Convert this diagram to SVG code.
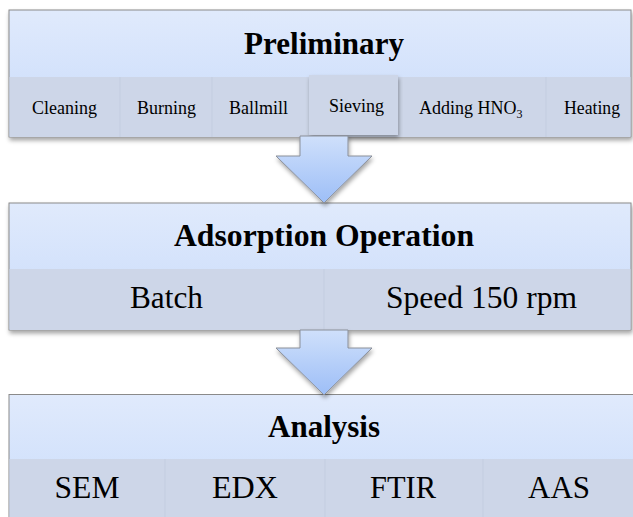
<svg xmlns="http://www.w3.org/2000/svg" width="633" height="517" viewBox="0 0 633 517">
  <defs>
    <linearGradient id="hdr" x1="0" y1="0" x2="0" y2="1">
      <stop offset="0" stop-color="#e0eafc"/>
      <stop offset="1" stop-color="#c8dbfb"/>
    </linearGradient>
    <linearGradient id="arw" x1="0" y1="0" x2="0" y2="1">
      <stop offset="0" stop-color="#cfe0fb"/>
      <stop offset="1" stop-color="#9dbef7"/>
    </linearGradient>
    <filter id="sh" x="-5%" y="-10%" width="110%" height="130%">
      <feDropShadow dx="1" dy="3" stdDeviation="2" flood-color="#000" flood-opacity="0.35"/>
    </filter>
  </defs>
  <style>
    .hdr { fill: url(#hdr); stroke: #8a8a8a; stroke-width: 1; }
    .sub { fill: #cdd6e8; }
    .div { stroke: #c3cde0; stroke-width: 1; }
    .title { font-weight: bold; font-size: 31px; text-anchor: middle; }
    .s18 { font-size: 18px; text-anchor: middle; }
    .s18l { font-size: 18px; text-anchor: start; }
    .s31 { font-size: 31px; text-anchor: middle; }
    .arrow { fill: url(#arw); stroke: #8a8f99; stroke-width: 1; filter: url(#sh); }
  </style>
  <rect width="633" height="517" fill="#ffffff"/>

  <g id="node-preliminary">
    <g filter="url(#sh)">
      <rect class="hdr" x="9" y="10" width="622" height="127"/>
    </g>
    <rect class="sub" x="9.5" y="77" width="621" height="60"/>
    <line class="div" x1="120" y1="77" x2="120" y2="137"/>
    <line class="div" x1="212" y1="77" x2="212" y2="137"/>
    <line class="div" x1="546" y1="77" x2="546" y2="137"/>
    <rect class="sub" x="309" y="75" width="89" height="60" fill="#ced7e9" filter="url(#sh)"/>
    <g font-family="Liberation Serif, Tinos, Noto Serif, DejaVu Serif, serif" fill="#000">
      <text class="title" x="324" y="54" textLength="160" lengthAdjust="spacingAndGlyphs">Preliminary</text>
      <text class="s18" x="64.5" y="114" textLength="65" lengthAdjust="spacingAndGlyphs">Cleaning</text>
      <text class="s18" x="166.5" y="114" textLength="59" lengthAdjust="spacingAndGlyphs">Burning</text>
      <text class="s18" x="258.5" y="114" textLength="59" lengthAdjust="spacingAndGlyphs">Ballmill</text>
      <text class="s18" x="356.5" y="112" textLength="55" lengthAdjust="spacingAndGlyphs">Sieving</text>
      <text class="s18l" x="419" y="114">Adding HNO<tspan font-size="12" dy="4">3</tspan></text>
      <text class="s18" x="592" y="114" textLength="56" lengthAdjust="spacingAndGlyphs">Heating</text>
    </g>
  </g>

  <g id="node-adsorption">
    <g filter="url(#sh)">
      <rect class="hdr" x="9" y="203" width="622" height="127"/>
    </g>
    <rect class="sub" x="9.5" y="269" width="621" height="61"/>
    <line class="div" x1="324" y1="269" x2="324" y2="330"/>
    <g font-family="Liberation Serif, Tinos, Noto Serif, DejaVu Serif, serif" fill="#000">
      <text class="title" x="324" y="246" textLength="300" lengthAdjust="spacingAndGlyphs">Adsorption Operation</text>
      <text class="s31" x="166.5" y="308" textLength="73" lengthAdjust="spacingAndGlyphs">Batch</text>
      <text class="s31" x="481.5" y="308" textLength="191" lengthAdjust="spacingAndGlyphs">Speed 150 rpm</text>
    </g>
  </g>

  <g id="node-analysis">
    <rect class="hdr" x="9" y="394.5" width="640" height="130"/>
    <rect class="sub" x="9.5" y="459" width="640" height="60"/>
    <line class="div" x1="165" y1="459" x2="165" y2="517"/>
    <line class="div" x1="325" y1="459" x2="325" y2="517"/>
    <line class="div" x1="483" y1="459" x2="483" y2="517"/>
    <g font-family="Liberation Serif, Tinos, Noto Serif, DejaVu Serif, serif" fill="#000">
      <text class="title" x="324" y="437" textLength="112" lengthAdjust="spacingAndGlyphs">Analysis</text>
      <text class="s31" x="87" y="498" textLength="65" lengthAdjust="spacingAndGlyphs">SEM</text>
      <text class="s31" x="245" y="498" textLength="66" lengthAdjust="spacingAndGlyphs">EDX</text>
      <text class="s31" x="403" y="498" textLength="66" lengthAdjust="spacingAndGlyphs">FTIR</text>
      <text class="s31" x="559" y="498" textLength="62" lengthAdjust="spacingAndGlyphs">AAS</text>
    </g>
  </g>

  <g id="connectors">
    <path class="arrow" d="M300,136 L348,136 L348,156 L372,156 L324,203 L276,156 L300,156 Z"/>
    <path class="arrow" d="M300,330 L348,330 L348,348 L372,348 L324,395 L276,348 L300,348 Z"/>
  </g>
</svg>
